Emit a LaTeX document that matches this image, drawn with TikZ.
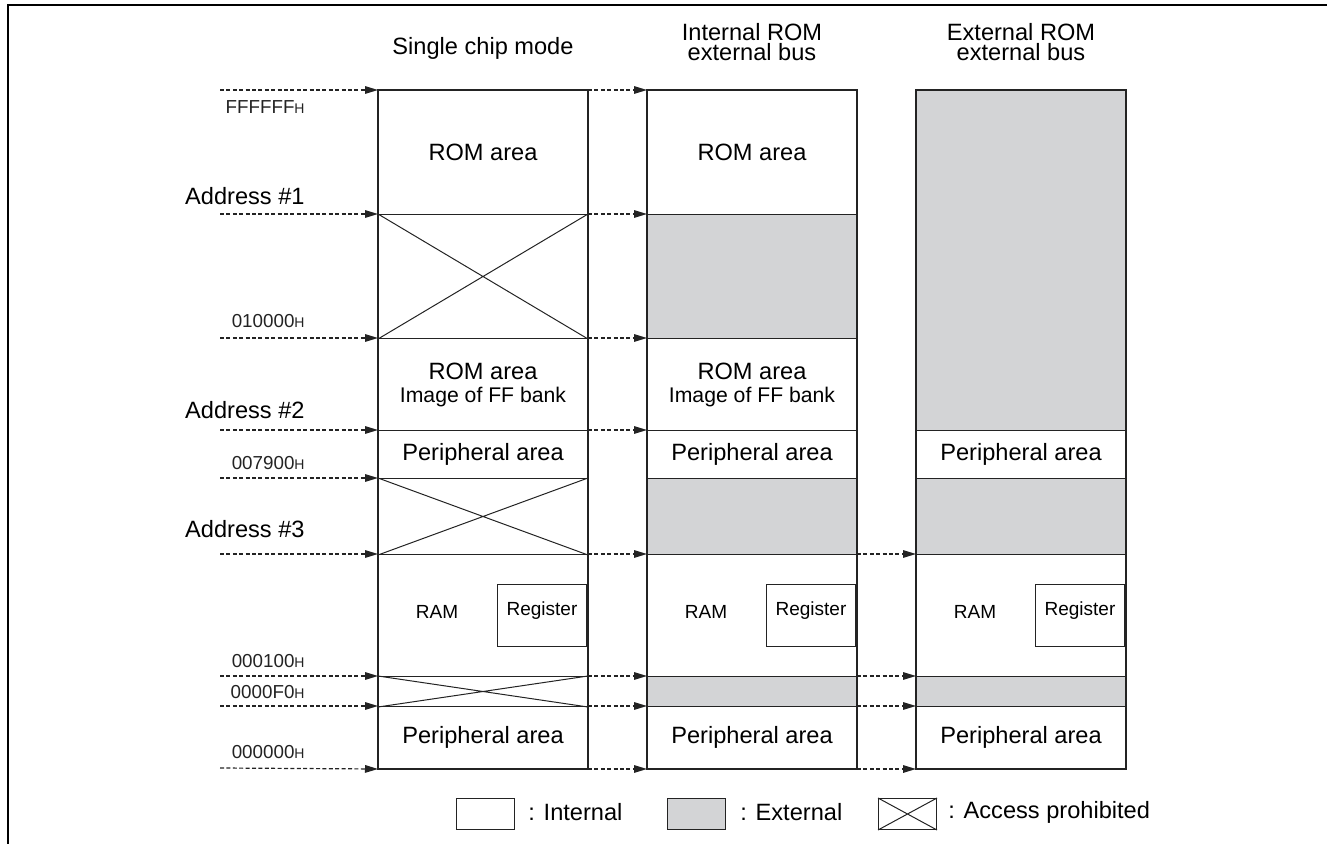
\documentclass[tikz,border=0pt]{standalone}
\usepackage{fontspec}
\setmainfont{Liberation Sans}
\usetikzlibrary{arrows.meta}

\definecolor{extgray}{RGB}{211,212,214}
\definecolor{linegray}{RGB}{35,35,35}
\newcommand{\hexH}{{\fontsize{7}{8}\selectfont H}}

\begin{document}
\begin{tikzpicture}[x=0.5pt, y=-0.5pt,
    area/.style={draw=linegray, line width=0.5pt, anchor=north west, minimum width=104.5pt,
      inner sep=0pt, align=center, font=\fontsize{11.8}{11.5}\selectfont},
    ext/.style={area, fill=extgray},
    colframe/.style={draw=linegray, line width=1pt},
    cross/.style={draw=linegray, line width=0.5pt},
    addr/.style={draw=linegray, line width=0.6pt, dash pattern=on 2pt off 1.2pt,
      -{Triangle[length=6.5pt,width=3.8pt]}},
    hex/.style={anchor=base east, text=linegray, font=\fontsize{9.4}{10}\selectfont, inner sep=0pt},
    adr/.style={anchor=base east, font=\fontsize{11.8}{12}\selectfont, inner sep=0pt},
    small/.style={font=\fontsize{9.5}{10}\selectfont},
    regbox/.style={draw=linegray, line width=0.5pt, anchor=north east, minimum width=44.5pt,
      minimum height=31pt, inner sep=0pt, text depth=7pt, small},
    head/.style={align=center, font=\fontsize{11.8}{10.3}\selectfont},
    key/.style={draw=linegray, line width=0.5pt, minimum width=29pt, minimum height=15.5pt, inner sep=0pt},
    keytxt/.style={anchor=west, font=\fontsize{11.8}{12}\selectfont, inner sep=0pt},
  ]
    \useasboundingbox (0,0) rectangle (1327,844);
    \draw [line width=1pt] (8,844) -- (8,5) -- (1327,5);

    % headings
    \path (483, 48) node [head] (scHead) {Single chip mode};
    \path (752, 42) node [head] (irHead) {Internal ROM\\external bus};
    \path (1021,42) node [head] (erHead) {External ROM\\external bus};

    % single chip mode
    \path (378, 90) node [area, minimum height=62pt] (scRom) {ROM area};
    \path (378,214) node [area, minimum height=62pt] (scNo1) {};
    \path (378,338) node [area, minimum height=46pt] (scImg) {ROM area\\{\fontsize{10.6}{11.5}\selectfont Image of FF bank}};
    \path (378,430) node [area, minimum height=24pt] (scPer) {Peripheral area};
    \path (378,478) node [area, minimum height=38pt] (scNo2) {};
    \path (378,554) node [area, minimum height=61pt] (scRam) {};
    \path (378,676) node [area, minimum height=15pt] (scNo3) {};
    \path (378,706) node [area, minimum height=31pt] (scLow) {Peripheral area};
    \path (437,612) node [small] (scRamTxt) {RAM};
    \path (587,584) node [regbox] (scReg) {Register};
    \foreach \n in {scNo1,scNo2,scNo3}
        \draw [cross] (\n.north west) -- (\n.south east) (\n.north east) -- (\n.south west);
    \draw [colframe] (scRom.north west) rectangle (scLow.south east);

    % internal ROM external bus
    \path (647, 90) node [area, minimum height=62pt] (irRom) {ROM area};
    \path (647,214) node [ext, minimum height=62pt] (irExt1) {};
    \path (647,338) node [area, minimum height=46pt] (irImg) {ROM area\\{\fontsize{10.6}{11.5}\selectfont Image of FF bank}};
    \path (647,430) node [area, minimum height=24pt] (irPer) {Peripheral area};
    \path (647,478) node [ext, minimum height=38pt] (irExt2) {};
    \path (647,554) node [area, minimum height=61pt] (irRam) {};
    \path (647,676) node [ext, minimum height=15pt] (irExt3) {};
    \path (647,706) node [area, minimum height=31pt] (irLow) {Peripheral area};
    \path (706,612) node [small] (irRamTxt) {RAM};
    \path (856,584) node [regbox] (irReg) {Register};
    \draw [colframe] (irRom.north west) rectangle (irLow.south east);

    % external ROM external bus
    \path (916, 90) node [ext, minimum height=170pt] (erExt1) {};
    \path (916,430) node [area, minimum height=24pt] (erPer) {Peripheral area};
    \path (916,478) node [ext, minimum height=38pt] (erExt2) {};
    \path (916,554) node [area, minimum height=61pt] (erRam) {};
    \path (916,676) node [ext, minimum height=15pt] (erExt3) {};
    \path (916,706) node [area, minimum height=31pt] (erLow) {Peripheral area};
    \path (975,612) node [small] (erRamTxt) {RAM};
    \path (1125,584) node [regbox] (erReg) {Register};
    \draw [colframe] (erExt1.north west) rectangle (erLow.south east);

    % addresses
    \path (305,100) node [hex, anchor=north east] (hTop) {FFFFFF\hexH};
    \path (305,205) node [adr] (hAd1) {Address \#1};
    \path (305,328) node [hex] (h010) {010000\hexH};
    \path (305,418) node [adr] (hAd2) {Address \#2};
    \path (305,469) node [hex] (h079) {007900\hexH};
    \path (305,537) node [adr] (hAd3) {Address \#3};
    \path (305,667) node [hex] (h001) {000100\hexH};
    \path (305,698) node [hex] (h0F0) {0000F0\hexH};
    \path (305,758) node [hex] (h000) {000000\hexH};

    \coordinate (lTop) at (220, 90);
    \coordinate (lAd1) at (220,214);
    \coordinate (l010) at (220,338);
    \coordinate (lAd2) at (220,430);
    \coordinate (l079) at (220,478);
    \coordinate (lAd3) at (220,554);
    \coordinate (l001) at (220,676);
    \coordinate (l0F0) at (220,706);
    \coordinate (l000) at (220,768);
    \draw [addr] (lTop) -- (scRom.north west);
    \draw [addr] (lAd1) -- (scNo1.north west);
    \draw [addr] (l010) -- (scImg.north west);
    \draw [addr] (lAd2) -- (scPer.north west);
    \draw [addr] (l079) -- (scNo2.north west);
    \draw [addr] (lAd3) -- (scRam.north west);
    \draw [addr] (l001) -- (scNo3.north west);
    \draw [addr] (l0F0) -- (scLow.north west);
    \draw [addr] (l000) -- (scLow.south west);

    \draw [addr] (scRom.north east) -- (irRom.north west);
    \draw [addr] (scNo1.north east) -- (irExt1.north west);
    \draw [addr] (scImg.north east) -- (irImg.north west);
    \draw [addr] (scPer.north east) -- (irPer.north west);
    \draw [addr] (scRam.north east) -- (irRam.north west);
    \draw [addr] (scNo3.north east) -- (irExt3.north west);
    \draw [addr] (scLow.north east) -- (irLow.north west);
    \draw [addr] (scLow.south east) -- (irLow.south west);

    \draw [addr] (irRam.north east) -- (erRam.north west);
    \draw [addr] (irExt3.north east) -- (erExt3.north west);
    \draw [addr] (irLow.north east) -- (erLow.north west);
    \draw [addr] (irLow.south east) -- (erLow.south west);

    % key
    \path (456,798) node [key, anchor=north west] (kInt) {};
    \path (528,812) node [keytxt] (kIntTxt) {: Internal};
    \path (667,798) node [key, anchor=north west, fill=extgray] (kExt) {};
    \path (740,812) node [keytxt] (kExtTxt) {: External};
    \path (878,798) node [key, anchor=north west] (kNo) {};
    \draw [cross] (kNo.north west) -- (kNo.south east) (kNo.north east) -- (kNo.south west);
    \path (948,812) node [keytxt] (kNoTxt) {: Access prohibited};
\end{tikzpicture}
\end{document}
